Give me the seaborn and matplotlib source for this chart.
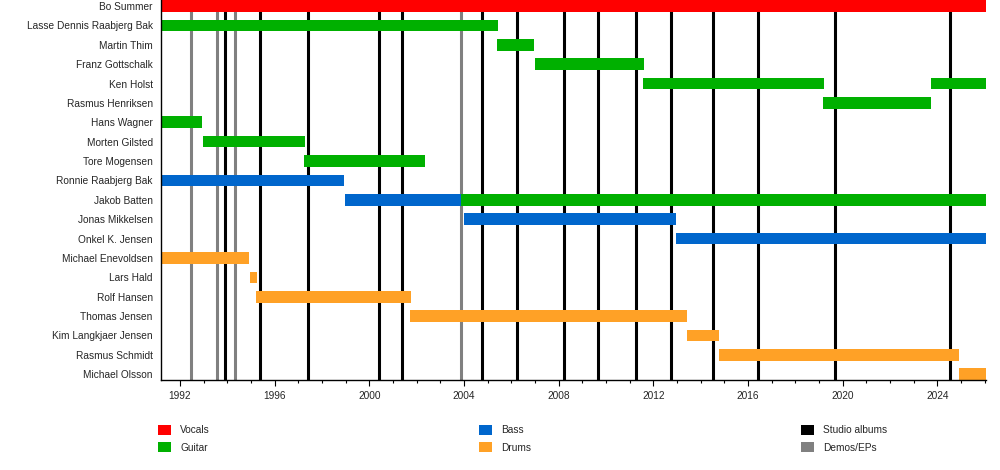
import matplotlib
matplotlib.use('Agg')
import matplotlib.pyplot as plt
from matplotlib.patches import Patch
from matplotlib.ticker import MultipleLocator
import seaborn as sns

# --- Dados ---
members = ['Bo Summer', 'Lasse Dennis Raabjerg Bak', 'Martin Thim', 'Franz Gottschalk',
           'Ken Holst', 'Rasmus Henriksen', 'Hans Wagner', 'Morten Gilsted',
           'Tore Mogensen', 'Ronnie Raabjerg Bak', 'Jakob Batten', 'Jonas Mikkelsen',
           'Onkel K. Jensen', 'Michael Enevoldsen', 'Lars Hald', 'Rolf Hansen',
           'Thomas Jensen', 'Kim Langkjaer Jensen', 'Rasmus Schmidt', 'Michael Olsson']

# segmentos (membro, papel, início, fim)
seg_member = ['Bo Summer', 'Lasse Dennis Raabjerg Bak', 'Martin Thim', 'Franz Gottschalk',
              'Ken Holst', 'Ken Holst', 'Rasmus Henriksen', 'Hans Wagner', 'Morten Gilsted',
              'Tore Mogensen', 'Ronnie Raabjerg Bak', 'Jakob Batten', 'Jakob Batten',
              'Jonas Mikkelsen', 'Onkel K. Jensen', 'Michael Enevoldsen', 'Lars Hald',
              'Rolf Hansen', 'Thomas Jensen', 'Kim Langkjaer Jensen', 'Rasmus Schmidt',
              'Michael Olsson']
seg_role = ['Vocals', 'Guitar', 'Guitar', 'Guitar',
            'Guitar', 'Guitar', 'Guitar', 'Guitar', 'Guitar',
            'Guitar', 'Bass', 'Bass', 'Guitar',
            'Bass', 'Bass', 'Drums', 'Drums',
            'Drums', 'Drums', 'Drums', 'Drums',
            'Drums']
seg_start = [1991.2, 1991.2, 2005.40, 2007.01,
             2011.57, 2023.72, 2019.18, 1991.2, 1992.97,
             1997.24, 1991.2, 1998.98, 2003.89,
             2004.01, 2012.95, 1991.2, 1994.96,
             1995.21, 2001.72, 2013.42, 2014.76,
             2024.89]
seg_end = [2026.05, 2005.44, 2006.96, 2011.61,
           2019.20, 2026.05, 2023.72, 1992.92, 1997.28,
           2002.36, 1998.93, 2003.89, 2026.05,
           2012.97, 2026.05, 1994.92, 1995.26,
           2001.77, 2013.42, 2014.76, 2024.89,
           2026.05]

studio_albums = [1993.91, 1995.39, 1997.42, 2000.42, 2001.40, 2004.74, 2006.25,
                 2008.23, 2009.64, 2011.25, 2012.73, 2014.50, 2016.40, 2019.66, 2024.52]
demos_eps = [1992.48, 1993.58, 1994.34, 2003.89]

role_colors = {'Vocals': '#FF0000', 'Guitar': '#00B000',
               'Bass': '#0066CC', 'Drums': '#FFA126'}
line_colors = {'Studio albums': '#000000', 'Demos/EPs': '#808080'}

# --- Estilo ---
sns.set_style('white')
plt.rcParams['font.family'] = ['Liberation Sans', 'DejaVu Sans']
FS = 7.3

fig = plt.figure(figsize=(10, 4.7), dpi=100)
ax = fig.add_axes([0.161, 0.191, 0.825, 0.809])

for x in demos_eps:
    ax.axvline(x, color=line_colors['Demos/EPs'], lw=2.2, zorder=1)
for x in studio_albums:
    ax.axvline(x, color=line_colors['Studio albums'], lw=2.2, zorder=1)

ypos = {m: i for i, m in enumerate(members)}
for m, r, s, e in zip(seg_member, seg_role, seg_start, seg_end):
    ax.barh(ypos[m], e - s, left=s, height=0.6, color=role_colors[r],
            linewidth=0, zorder=2)

ax.set_xlim(1991.2, 2026.05)
ax.set_ylim(len(members) - 1 + 0.31, -0.31)
ax.set_yticks(range(len(members)))
ax.set_yticklabels(members)
ax.xaxis.set_minor_locator(MultipleLocator(1))
ax.set_xticks([1992 + 4 * i for i in range(9)])
ax.tick_params(axis='y', length=0, pad=6, labelsize=FS)
ax.tick_params(axis='x', which='major', direction='out', length=4, width=0.8,
               color='black', bottom=True, labelsize=FS, pad=4)
ax.tick_params(axis='x', which='minor', direction='out', length=2.5, width=0.8,
               color='black', bottom=True)
sns.despine(ax=ax, top=True, right=True)
for sp in ['left', 'bottom']:
    ax.spines[sp].set_color('black')
    ax.spines[sp].set_linewidth(1.0)
ax.grid(False)

# --- Legendas ---
legend_cols = [
    (0.158, ['Vocals', 'Guitar'], role_colors),
    (0.479, ['Bass', 'Drums'], role_colors),
    (0.801, ['Studio albums', 'Demos/EPs'], line_colors),
]
for xa, labels, cmap in legend_cols:
    handles = [Patch(facecolor=cmap[l], edgecolor='none', label=l) for l in labels]
    fig.legend(handles=handles, loc='upper left', bbox_to_anchor=(xa, 0.096),
               frameon=False, fontsize=FS, handlelength=1.3, handleheight=1.15,
               handletextpad=0.9, labelspacing=0.68, borderaxespad=0, borderpad=0)

fig.savefig('out.png', dpi=100)
